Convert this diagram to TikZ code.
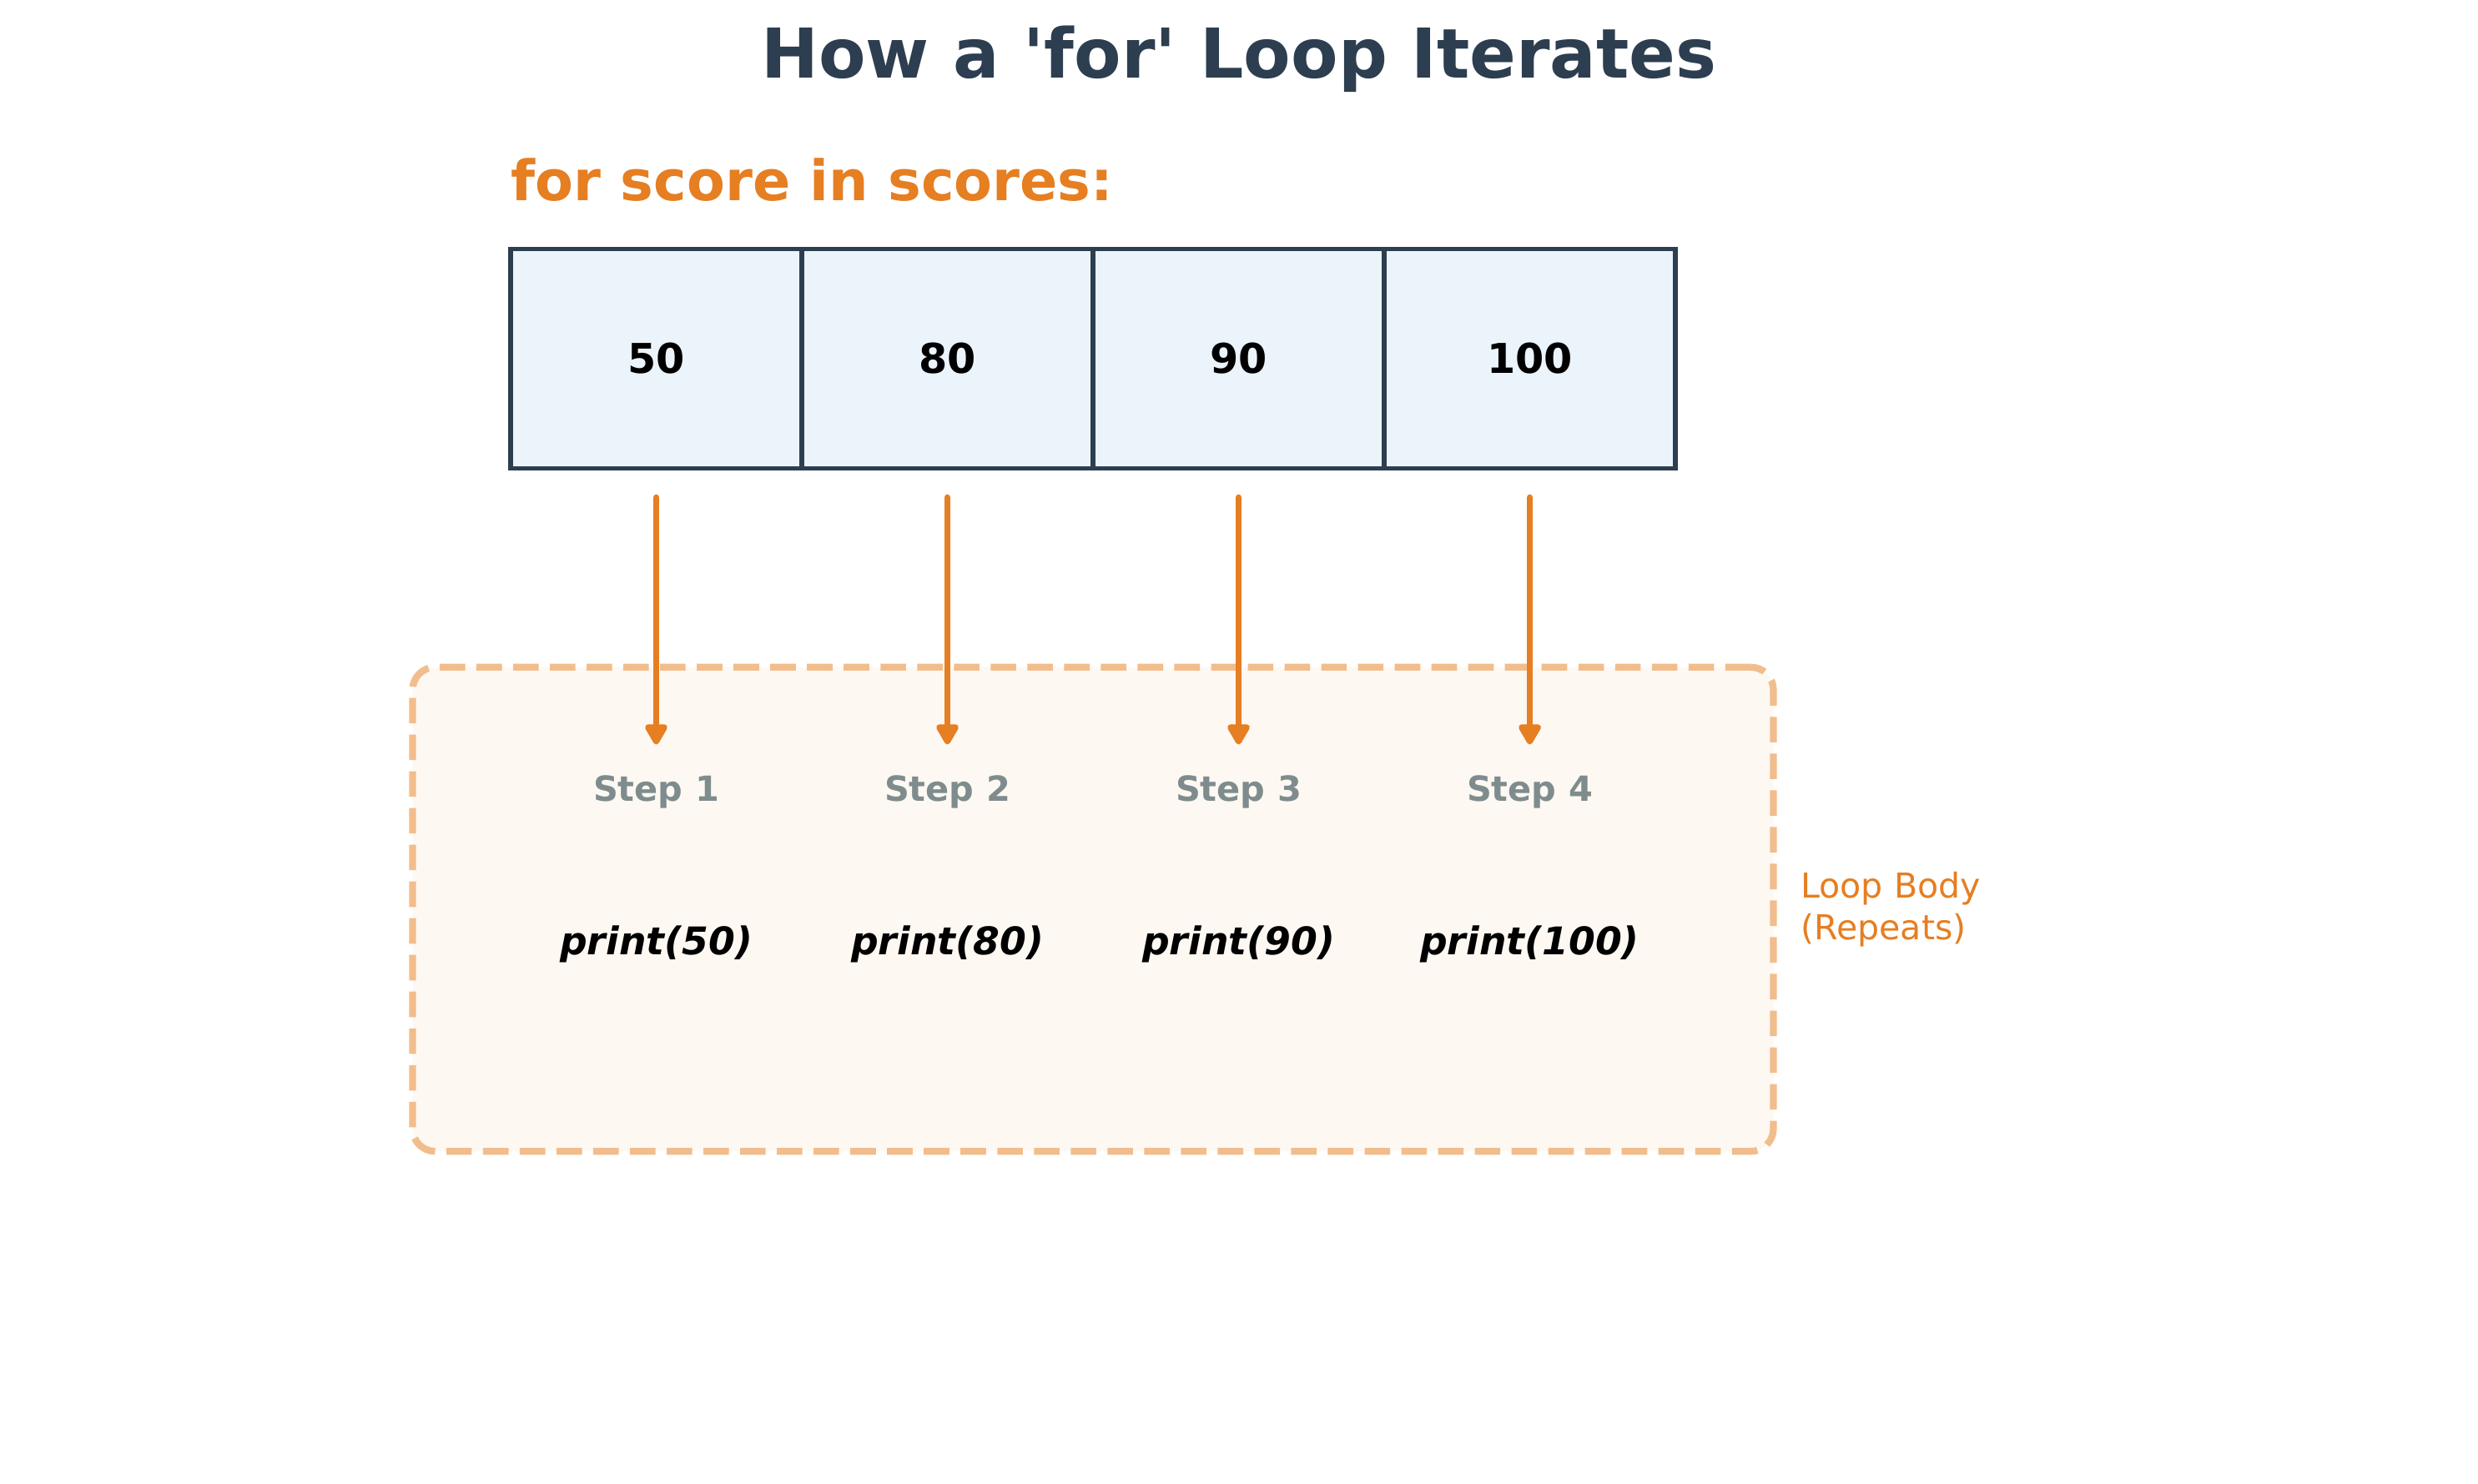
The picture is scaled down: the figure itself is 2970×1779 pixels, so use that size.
\documentclass[tikz,border=0pt]{standalone}
\usepackage{fontspec}
\setmainfont{DejaVu Sans}
\usetikzlibrary{arrows.meta,positioning}
\definecolor{navy}{HTML}{2C3E50}
\definecolor{loopor}{HTML}{E67E22}
\definecolor{cellfill}{HTML}{EBF4FB}
\definecolor{stepgray}{HTML}{7F8C8D}
\definecolor{bodyedge}{HTML}{F2BD8C}
\definecolor{bodyfill}{HTML}{FDF8F2}
\begin{document}
\begin{tikzpicture}[
  x=0.01cm, y=-0.01cm,
  cell/.style = {draw=navy, fill=cellfill, line width=0.055cm,
    minimum width=3.49cm, minimum height=2.63cm, inner sep=0pt,
    font=\fontsize{14}{17}\selectfont\bfseries},
  steplabel/.style = {anchor=base, inner sep=0pt, text=stepgray,
    font=\fontsize{11.8}{14}\selectfont\bfseries},
  callout/.style = {anchor=base, inner sep=0pt,
    font=\fontsize{13}{16}\selectfont\bfseries\itshape},
  bodybox/.style = {draw=bodyedge, fill=bodyfill, line width=0.083cm,
    dash pattern=on 0.306cm off 0.134cm, rounded corners=0.27cm,
    minimum width=16.3cm, minimum height=5.8cm, inner sep=0pt},
  flow/.style = {draw=loopor, line width=0.075cm, line cap=round,
    -{Triangle[length=8pt,width=8.5pt,round]},
    shorten <=0.32cm, shorten >=0.36cm},
]
  \useasboundingbox (0,0) rectangle (2970,1779);

  \node[anchor=base, inner sep=0pt, text=navy,
    font=\fontsize{23.4}{28}\selectfont\bfseries] (title) at (1485,94)
    {How a \textquotesingle for\textquotesingle\ Loop Iterates};
  \node[anchor=base west, inner sep=0pt, text=loopor,
    font=\fontsize{19}{23}\selectfont\bfseries] (header) at (612,240)
    {for score in scores:};

  % loop body container
  \node[bodybox] (body) at (1310,1090) {};
  \node[right=0.28cm of body, align=left, inner sep=0pt, text=loopor,
    font=\fontsize{11.7}{14.2}\selectfont] (bodylabel)
    {Loop Body\\(Repeats)};

  \foreach \i/\v in {1/50,2/80,3/90,4/100} {
    \node[cell] (cell\i) at ({786.5+349*(\i-1)},430) {\v};
    \node[steplabel] (step\i) at ({786.5+349*(\i-1)},960) {Step \i};
    \node[callout] (call\i) at ({786.5+349*(\i-1)},1144) {print(\v)};
    \draw[flow] (cell\i.south) -- (step\i.north);
  }
\end{tikzpicture}
\end{document}
